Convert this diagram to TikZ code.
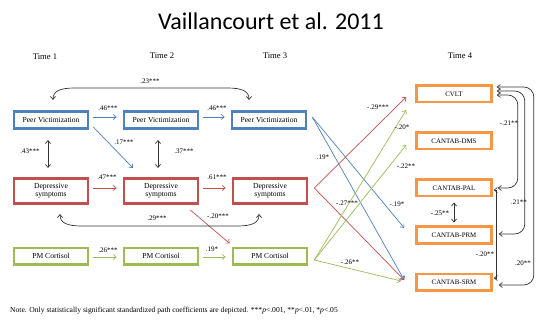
\documentclass[tikz,border=0pt]{standalone}
\usepackage{fontspec}
\setmainfont{Liberation Serif}
\newfontfamily\titlefont{Carlito}
\usetikzlibrary{calc,arrows.meta}
\definecolor{pvblue}{RGB}{79,129,189}
\definecolor{depred}{RGB}{192,80,77}
\definecolor{pmgreen}{RGB}{155,187,89}
\definecolor{cogorange}{RGB}{247,150,70}
\definecolor{pathgray}{RGB}{50,50,50}

\begin{document}
\begin{tikzpicture}[x=1pt,y=-1pt,>={Straight Barb[length=3pt,width=5pt]},
	tbox/.style={draw,line width=2.6pt,minimum width=74pt,minimum height=17.4pt,inner sep=0pt,align=center,font=\fontsize{7.6}{8}\selectfont},
	obox/.style={draw=cogorange,line width=2.6pt,minimum width=75pt,minimum height=16.4pt,inner sep=0pt,font=\fontsize{6.9}{8}\selectfont},
	coef/.style={font=\fontsize{7}{8}\selectfont,inner sep=0pt},
	timelab/.style={font=\fontsize{8.6}{10}\selectfont},
	link/.style={line width=0.7pt}]
			%%%%% START %%%%%
			\useasboundingbox (0,0) rectangle (536,326);
			\node[anchor=base,font=\titlefont\fontsize{24}{28}\selectfont] (title) at (271,30) {Vaillancourt et al. 2011};
			
			\node[timelab] (time1) at (45,57) {Time 1};
			\node[timelab] (time2) at (162,56) {Time 2};
			\node[timelab] (time3) at (275,56) {Time 3};
			\node[timelab] (time4) at (460,56) {Time 4};
			
			\node[tbox,draw=pvblue] (pv1) at (51,120) {Peer Victimization};
			\node[tbox,draw=pvblue] (pv2) at (161,120) {Peer Victimization};
			\node[tbox,draw=pvblue] (pv3) at (269,120) {Peer Victimization};
			
			\node[tbox,draw=depred,minimum height=25.4pt] (dep1) at (51,191) {Depressive\\symptoms};
			\node[tbox,draw=depred,minimum height=25.4pt] (dep2) at (161,191) {Depressive\\symptoms};
			\node[tbox,draw=depred,minimum height=25.4pt] (dep3) at (270,191) {Depressive\\symptoms};
			
			\node[tbox,draw=pmgreen,minimum height=16.4pt] (pm1) at (51,256) {PM Cortisol};
			\node[tbox,draw=pmgreen,minimum height=16.4pt] (pm2) at (161,256) {PM Cortisol};
			\node[tbox,draw=pmgreen,minimum height=16.4pt] (pm3) at (270,256) {PM Cortisol};
			
			\node[obox] (cvlt) at (454,94) {CVLT};
			\node[obox] (dms) at (454,141) {CANTAB-DMS};
			\node[obox] (pal) at (454,188) {CANTAB-PAL};
			\node[obox] (prm) at (454,235) {CANTAB-PRM};
			\node[obox] (srm) at (454,282) {CANTAB-SRM};
			
			% stability paths
			\draw[link,pvblue,->] ($(pv1.east)+(4,-3)$) -- ($(pv2.west)+(-6,-3)$);
			\draw[link,pvblue,->] ($(pv2.east)+(4,-3)$) -- ($(pv3.west)+(-6,-3)$);
			\draw[link,depred,->] ($(dep1.east)+(4,-3)$) -- ($(dep2.west)+(-6,-3)$);
			\draw[link,depred,->] ($(dep2.east)+(4,-3)$) -- ($(dep3.west)+(-6,-3)$);
			\draw[link,pmgreen,->] ($(pm1.east)+(4,1)$) -- ($(pm2.west)+(-6,1)$);
			\draw[link,pmgreen,->] ($(pm2.east)+(4,1)$) -- ($(pm3.west)+(-6,1)$);
			\node[coef] (c46a) at (108,108) {.46***};
			\node[coef] (c46b) at (217,108) {.46***};
			\node[coef] (c47) at (107,177) {.47***};
			\node[coef] (c61) at (217,177) {.61***};
			\node[coef] (c26) at (108,250) {.26***};
			\node[coef] (c19) at (212,249) {.19*};
			
			% within time
			\draw[link,pathgray,<->] ($(pv1.south)+(-3,10)$) -- ($(dep1.north)+(-3,-9)$);
			\draw[link,pathgray,<->] ($(pv2.south)+(-3,10)$) -- ($(dep2.north)+(-3,-9)$);
			\node[coef] (c43) at (30,151) {.43***};
			\node[coef] (c37) at (184,151) {.37***};
			
			% cross-lagged
			\draw[link,pvblue,->] ($(pv1.east)+(4,7)$) -- ($(dep2.north)+(-28,-9)$);
			\node[coef] (c17) at (124,142) {.17***};
			\draw[link,depred,->] ($(dep2.south east)+(-9,5)$) -- ($(pm3.north west)+(-2,-3)$);
			\node[coef] (c20) at (218,216) {-.20***};
			
			\coordinate (pv1t) at ($(pv1.north)+(2,-10)$);
			\coordinate (pv3t) at ($(pv3.north)+(-20,-10)$);
			\draw[link,pathgray,<->] (pv1t) .. controls +(0,-9) and +(-15,0) .. ($(pv1t)+(22,-12)$) -- ($(pv3t)+(-22,-12)$) .. controls +(15,0) and +(0,-9) .. (pv3t);
			\node[coef] (c23) at (150,81) {.23***};
			
			\coordinate (dep1b) at ($(dep1.south)+(9,9)$);
			\coordinate (dep3b) at ($(dep3.south)+(-11,9)$);
			\draw[link,pathgray,<->] (dep1b) .. controls +(0,9) and +(-15,0) .. ($(dep1b)+(22,12)$) -- ($(dep3b)+(-22,12)$) .. controls +(15,0) and +(0,9) .. (dep3b);
			\node[coef] (c29) at (157,218) {.29***};
			
			% time 3 to time 4
			\coordinate (pv3o) at ($(pv3.east)+(5,-3)$);
			\coordinate (dep3o) at ($(dep3.east)+(6,-3)$);
			\coordinate (pm3o) at ($(pm3.east)+(6,4)$);
			\draw[link,pvblue,->] (pv3o) -- ($(prm.west)+(-11,-7)$);
			\draw[link,pvblue,->] (pv3o) -- ($(srm.west)+(-11,-2)$);
			\draw[link,depred,->] (dep3o) -- ($(cvlt.west)+(-9,3)$);
			\draw[link,depred,->] (dep3o) -- ($(srm.west)+(-11,-2)$);
			\draw[link,pmgreen,->] (pm3o) -- ($(cvlt.west)+(-9,16)$);
			\draw[link,pmgreen,->] (pm3o) -- ($(dms.west)+(-9,4)$);
			\draw[link,pmgreen,->] (pm3o) -- ($(srm.west)+(-14,-1)$);
			\node[coef] (c19b) at (323,157) {.19*};
			\node[coef] (c29b) at (378,107) {-.29***};
			\node[coef] (c20b) at (402,127) {-.20*};
			\node[coef] (c22) at (406,166) {-.22**};
			\node[coef] (c19c) at (397,204) {-.19*};
			\node[coef] (c27) at (347,203) {-.27***};
			\node[coef] (c26b) at (350,262) {-.26**};
			
			% time 4 correlations
			\draw[link,pathgray,<->] ($(pal.south)+(0,5)$) -- ($(prm.north)+(0,-3)$);
			\node[coef] (c25) at (440,213) {-.25**};
			\draw[link,pathgray,<->] ($(pal.east)+(1,2)$) -- ++(3,0) -- ($(srm.east)+(4,-4)$) -- ++(-3,0);
			\node[coef] (c20c) at (485,254) {-.20**};
			\coordinate (cv1) at ($(cvlt.east)+(4,1)$);
			\coordinate (cv2) at ($(cvlt.east)+(4,-3)$);
			\coordinate (cv3) at ($(cvlt.east)+(4,-7)$);
			\draw[link,pathgray,<->,rounded corners=10pt] (cv1) -- ($(cv1)+(21,0)$) |- ($(pal.east)+(5,0)$);
			\draw[link,pathgray,<->,rounded corners=10pt] (cv2) -- ($(cv2)+(28,0)$) |- ($(prm.east)+(6,-1)$);
			\draw[link,pathgray,<->,rounded corners=10pt] (cv3) -- ($(cv3)+(37,0)$) |- ($(srm.east)+(6,3)$);
			\node[coef] (c21a) at (509,123) {-.21**};
			\node[coef] (c21b) at (519,202) {.21**};
			\node[coef] (c20d) at (523,263) {.20**};
			
			\node[anchor=west,font=\fontsize{7.6}{9}\selectfont,inner sep=0pt] (note) at (10,311) {Note. Only statistically significant standardized path coefficients are depicted. ***\textit{p}<.001, **\textit{p}<.01, *\textit{p}<.05};
			%%%%% END %%%%%
		\end{tikzpicture}
\end{document}
